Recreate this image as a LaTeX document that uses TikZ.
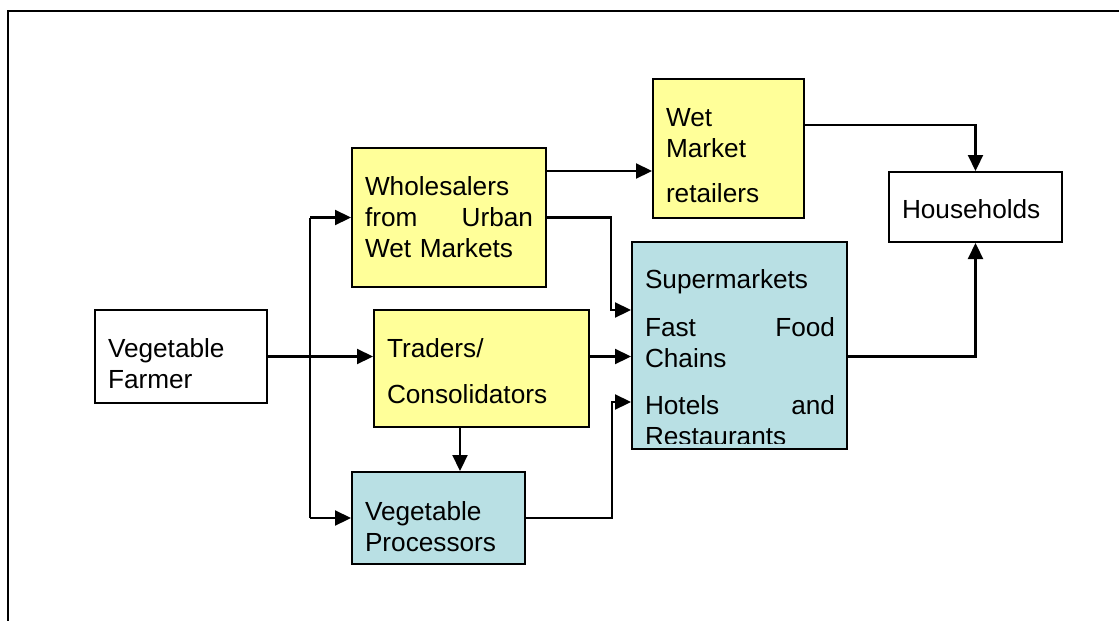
\documentclass[tikz,border=0pt]{standalone}
\usepackage{fontspec}
\setmainfont{Liberation Sans}
\usepackage{tikz}
\usetikzlibrary{arrows.meta}
\definecolor{wetyellow}{RGB}{255,255,153}
\definecolor{procblue}{RGB}{185,224,228}
\newcommand{\spreadline}[2]{\leavevmode\hbox to\hsize{#1\hfill #2}}

\tikzset{
  box/.style={draw, line width=1pt, inner xsep=6.5pt, inner ysep=0pt, align=left,
    font=\fontsize{13.1}{15.5}\selectfont},
  yel/.style={box, fill=wetyellow},
  blu/.style={box, fill=procblue},
  link/.style={line width=1.1pt, -{Triangle[length=8pt,width=7.5pt]}},
}

\begin{document}
\begin{tikzpicture}[x=0.5pt, y=-0.5pt]
			\useasboundingbox (0,0) rectangle (1119,621);
			\draw[line width=1.1pt] (8,621) -- (8,11) -- (1119,11);

			\node[box, minimum width=86pt, minimum height=46.5pt, text width=73pt, text depth=8pt] (farmer) at (181,356.5) {Vegetable\\Farmer};
			\node[yel, minimum width=97pt, minimum height=69.5pt, text width=84pt] (whole) at (449,217.5)
				{Wholesalers\\\spreadline{from}{Urban}\\Wet Markets};
			\node[yel, minimum width=107.5pt, minimum height=58.5pt, text width=94.5pt, text depth=20pt] (traders) at (481.5,368.5) {Traders/\\[7.5pt]Consolidators};
			\node[blu, minimum width=86.5pt, minimum height=46pt, text width=73.5pt, text depth=7pt] (proc) at (438.5,518) {Vegetable\\Processors};
			\node[yel, minimum width=75.5pt, minimum height=69.5pt, text width=62.5pt, text depth=31pt] (wet) at (728.5,148.5) {Wet\\Market\\[7pt]retailers};
			\node[box, minimum width=86.5pt, minimum height=35pt, text width=73.5pt, text height=11pt, text depth=0pt] (house) at (975.5,207) {Households};
			\node[blu, minimum width=107.5pt, minimum height=103.5pt] (sup) at (739.5,345.5) {};
			\begin{scope}
				\clip (sup.north west) rectangle (847,443);
				\node[box, draw=none, anchor=base west, inner xsep=0pt, text width=95pt] (suptext) at (644,288)
					{Supermarkets\\[8.5pt]\spreadline{Fast}{Food}\\Chains\\[8pt]\spreadline{Hotels}{and}\\Restaurants};
			\end{scope}

			% inlets on the left side of the retail box
			\coordinate (supin1) at ([yshift=-34.5pt]sup.north west);
			\coordinate (supin3) at ([yshift=-80.5pt]sup.north west);
			\coordinate (split) at (310,356.5);

			\draw[link] (farmer.east) -- (farmer.east -| traders.west);
			\draw[line width=1.1pt] (split |- whole.west) -- (split |- proc.west);
			\draw[link] (split |- whole.west) -- (whole.west);
			\draw[link] (split |- proc.west) -- (proc.west);
			\draw[link] ([yshift=-12pt]whole.north east) -- ([yshift=-12pt]whole.north east -| wet.west);
			\draw[link] (whole.east) -- ++(32pt,0) |- (supin1);
			\draw[link] (traders.east |- farmer.east) -- (sup.west |- farmer.east);
			\draw[link] ([xshift=-10.75pt]traders.south) -- ([xshift=-10.75pt]traders.south |- proc.north);
			\draw[link] (proc.east) -- ++(43pt,0) |- (supin3);
			\draw[link] ([yshift=-23.5pt]wet.north east) -| (house.north);
			\draw[link] (sup.east |- farmer.east) -| (house.south);
		\end{tikzpicture}
\end{document}
